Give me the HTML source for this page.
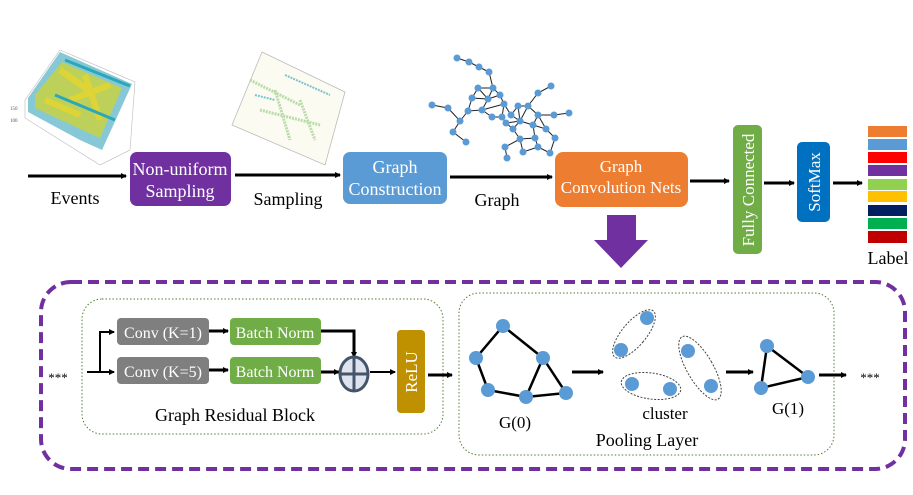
<!DOCTYPE html>
<html><head><meta charset="utf-8"><style>
html,body{margin:0;padding:0;background:#fff;}
svg{display:block;font-family:"Liberation Serif",serif;}
</style></head><body>
<svg width="913" height="495" viewBox="0 0 913 495" xmlns="http://www.w3.org/2000/svg">
<defs>
<marker id="ah" markerWidth="6" markerHeight="6" refX="5" refY="3" orient="auto" markerUnits="userSpaceOnUse"><path d="M0,0 L6,3 L0,6z" fill="#000"/></marker>
</defs>
<!-- events plot -->
<g>
<polygon points="25,100 60,50 135,82 130,150 100,165 25,118" fill="#fff" stroke="#bbb" stroke-width="0.6"/>
<polygon points="28,98 60,52 132,84 102,150 80,140 28,112" fill="#5fb6c8" opacity="0.75"/>
<polygon points="35,95 62,62 122,88 100,138 78,128 35,108" fill="#c7d244" opacity="0.85"/>
<path d="M60,70 L95,95 M70,100 L110,85 M85,75 L100,120 M45,100 L80,115" stroke="#e7d52c" stroke-width="6" opacity="0.8"/>
<path d="M55,95 L115,120 M65,60 L130,86" stroke="#2aa7b8" stroke-width="3"/>
<text x="10" y="110" font-size="5" fill="#555">150</text>
<text x="10" y="122" font-size="5" fill="#555">100</text>
</g>
<!-- sampling plot -->
<g>
<polygon points="262,52 345,92 325,165 232,125" fill="#fbfbf2" stroke="#bbb" stroke-width="0.8"/>
<path d="M250,80 L300,105 M260,110 L320,125 M275,90 L290,140 M300,100 L315,140" stroke="#9fcf8a" stroke-width="3" opacity="0.7" stroke-dasharray="2 1"/>
<path d="M255,95 L275,100 M285,75 L330,95" stroke="#7cc3cf" stroke-width="2" stroke-dasharray="2 1"/>
</g>
<!-- top graph -->
<g stroke="#222" stroke-width="1" fill="none">
<polyline points="457,58 469,62 479,67 489,72 493,88"/>
<path d="M493,88 L478,88 L472,98 L488,99 L478,88 M493,88 L488,99 M493,88 L500,95 L504,104 M472,98 L468,111 L482,110 L488,99 M468,111 L460,121 L448,108 L432,105 M460,121 L453,132 L466,142 M482,110 L492,117 L502,117 L504,104 L511,115 L518,106 L528,106 L538,93 L551,86 M482,110 L504,104 M500,95 L488,99 M518,106 L520,121 L511,115 M528,106 L538,115 L554,115 L569,113 M528,106 L520,121 L506,123 L502,117 M506,123 L513,129 L520,121 L533,125 L538,115 M513,129 L520,139 L535,138 L533,125 L546,129 L555,138 L550,153 L538,147 L535,138 M546,129 L538,115 M520,139 L523,152 L538,147 M505,147 L507,158 M505,147 L520,139 M523,152 L520,139"/>
</g>
<g fill="#5b9bd5">
<circle cx="457" cy="58" r="3.5"/><circle cx="469" cy="62" r="3.5"/><circle cx="479" cy="67" r="3.5"/><circle cx="489" cy="72" r="3.5"/><circle cx="493" cy="88" r="3.5"/><circle cx="478" cy="88" r="3.5"/><circle cx="472" cy="98" r="3.5"/><circle cx="488" cy="99" r="3.5"/><circle cx="500" cy="95" r="3.5"/><circle cx="468" cy="111" r="3.5"/><circle cx="482" cy="110" r="3.5"/><circle cx="432" cy="105" r="3.5"/><circle cx="448" cy="108" r="3.5"/><circle cx="460" cy="121" r="3.5"/><circle cx="453" cy="132" r="3.5"/><circle cx="466" cy="142" r="3.5"/><circle cx="504" cy="104" r="3.5"/><circle cx="492" cy="117" r="3.5"/><circle cx="502" cy="117" r="3.5"/><circle cx="511" cy="115" r="3.5"/><circle cx="518" cy="106" r="3.5"/><circle cx="528" cy="106" r="3.5"/><circle cx="538" cy="93" r="3.5"/><circle cx="551" cy="86" r="3.5"/><circle cx="538" cy="115" r="3.5"/><circle cx="554" cy="115" r="3.5"/><circle cx="569" cy="113" r="3.5"/><circle cx="520" cy="121" r="3.5"/><circle cx="506" cy="123" r="3.5"/><circle cx="513" cy="129" r="3.5"/><circle cx="533" cy="125" r="3.5"/><circle cx="546" cy="129" r="3.5"/><circle cx="520" cy="139" r="3.5"/><circle cx="535" cy="138" r="3.5"/><circle cx="555" cy="138" r="3.5"/><circle cx="505" cy="147" r="3.5"/><circle cx="507" cy="158" r="3.5"/><circle cx="523" cy="152" r="3.5"/><circle cx="538" cy="147" r="3.5"/><circle cx="550" cy="153" r="3.5"/>
</g>
<!-- top arrows -->
<g stroke="#000" stroke-width="3" marker-end="url(#ah)">
<line x1="28" y1="176" x2="126" y2="176"/>
<line x1="235" y1="175" x2="340" y2="175"/>
<line x1="450" y1="177" x2="552" y2="177"/>
<line x1="690" y1="181" x2="729" y2="181"/>
<line x1="764" y1="183" x2="794" y2="183"/>
<line x1="833" y1="183" x2="862" y2="183"/>
</g>
<!-- top boxes -->
<rect x="130" y="152" width="101" height="54" rx="7" fill="#7030a0"/>
<text x="180" y="175" font-size="18" fill="#fff" text-anchor="middle">Non-uniform</text>
<text x="180" y="197" font-size="18" fill="#fff" text-anchor="middle">Sampling</text>
<rect x="343" y="152" width="104" height="52" rx="7" fill="#5b9bd5"/>
<text x="395" y="173" font-size="18" fill="#fff" text-anchor="middle">Graph</text>
<text x="395" y="195" font-size="18" fill="#fff" text-anchor="middle">Construction</text>
<rect x="555" y="152" width="133" height="55" rx="8" fill="#ed7d31"/>
<text x="621" y="172" font-size="17" fill="#fff" text-anchor="middle">Graph</text>
<text x="621" y="193" font-size="17" fill="#fff" text-anchor="middle">Convolution Nets</text>
<rect x="733" y="125" width="29" height="129" rx="5" fill="#70ad47"/>
<text transform="translate(754,190) rotate(-90)" font-size="17" fill="#fff" text-anchor="middle">Fully Connected</text>
<rect x="797" y="142" width="33" height="80" rx="5" fill="#0070c0"/>
<text transform="translate(820,182) rotate(-90)" font-size="17" fill="#fff" text-anchor="middle">SoftMax</text>
<text x="75" y="204" font-size="18" text-anchor="middle">Events</text>
<text x="288" y="205" font-size="18" text-anchor="middle">Sampling</text>
<text x="497" y="206" font-size="18" text-anchor="middle">Graph</text>
<!-- label bars -->
<rect x="868" y="126" width="39" height="11" fill="#ed7d31"/>
<rect x="868" y="139" width="39" height="11" fill="#5b9bd5"/>
<rect x="868" y="152" width="39" height="11" fill="#ff0000"/>
<rect x="868" y="165" width="39" height="11" fill="#7030a0"/>
<rect x="868" y="179" width="39" height="11" fill="#92d050"/>
<rect x="868" y="191" width="39" height="11" fill="#ffc000"/>
<rect x="868" y="205" width="39" height="11" fill="#002060"/>
<rect x="868" y="218" width="39" height="11" fill="#00b050"/>
<rect x="868" y="231" width="39" height="12" fill="#c00000"/>
<text x="888" y="264" font-size="18" text-anchor="middle">Label</text>
<!-- big purple arrow -->
<polygon points="607,215 636,215 636,240 648,240 621,268 594,240 607,240" fill="#7030a0"/>
<!-- dashed container -->
<rect x="41" y="282" width="864" height="187" rx="30" fill="none" stroke="#7030a0" stroke-width="4" stroke-dasharray="11 6"/>
<rect x="82" y="299" width="361" height="135" rx="20" fill="none" stroke="#507e32" stroke-width="1" stroke-dasharray="1.5 2"/>
<rect x="459" y="293" width="375" height="162" rx="20" fill="none" stroke="#507e32" stroke-width="1" stroke-dasharray="1.5 2"/>
<text x="58" y="382" font-size="13" text-anchor="middle">***</text>
<!-- residual block arrows -->
<g stroke="#000" stroke-width="2" fill="none">
<line x1="87" y1="372" x2="114" y2="372" marker-end="url(#ah)"/>
<polyline points="100,372 100,332 114,332" marker-end="url(#ah)"/>
<line x1="209" y1="331" x2="228" y2="331" stroke-width="3" marker-end="url(#ah)"/>
<line x1="209" y1="370" x2="228" y2="370" stroke-width="3" marker-end="url(#ah)"/>
<polyline points="321,331 354,331 354,357" stroke-width="3" marker-end="url(#ah)"/>
<line x1="321" y1="372" x2="339" y2="372" stroke-width="3" marker-end="url(#ah)"/>
<line x1="370" y1="372" x2="395" y2="372" marker-end="url(#ah)"/>
<line x1="428" y1="375" x2="452" y2="375" stroke-width="3" marker-end="url(#ah)"/>
</g>
<rect x="117" y="318" width="92" height="27" rx="4" fill="#7f7f7f"/>
<text x="163" y="338" font-size="16" fill="#fff" text-anchor="middle">Conv (K=1)</text>
<rect x="117" y="357" width="92" height="27" rx="4" fill="#7f7f7f"/>
<text x="163" y="377" font-size="16" fill="#fff" text-anchor="middle">Conv (K=5)</text>
<rect x="230" y="318" width="91" height="27" rx="4" fill="#70ad47"/>
<text x="275" y="338" font-size="16" fill="#fff" text-anchor="middle">Batch Norm</text>
<rect x="230" y="357" width="91" height="27" rx="4" fill="#70ad47"/>
<text x="275" y="377" font-size="16" fill="#fff" text-anchor="middle">Batch Norm</text>
<ellipse cx="354" cy="374" rx="14" ry="17" fill="#dfe3ee" stroke="#44546a" stroke-width="3"/>
<path d="M340,374 H368 M354,357 V391" stroke="#44546a" stroke-width="3"/>
<rect x="397" y="330" width="28" height="83" rx="4" fill="#bf9000"/>
<text transform="translate(417,372) rotate(-90)" font-size="17" fill="#fff" text-anchor="middle">ReLU</text>
<text x="235" y="421" font-size="18" text-anchor="middle">Graph Residual Block</text>
<!-- pooling -->
<g stroke="#000" stroke-width="2.5" fill="none">
<path d="M503,326 L476,358 L488,390 L526,397 L566,393 L543,358 L503,326 M526,397 L543,358"/>
<path d="M767,346 L761,388 L808,377 Z"/>
</g>
<g stroke="#000" stroke-width="3" marker-end="url(#ah)">
<line x1="572" y1="372" x2="603" y2="372"/>
<line x1="726" y1="372" x2="753" y2="372"/>
<line x1="819" y1="375" x2="846" y2="375"/>
</g>
<g fill="none" stroke="#444" stroke-width="1" stroke-dasharray="2 1.5">
<ellipse cx="634" cy="334" rx="12" ry="30" transform="rotate(40 634 334)"/>
<ellipse cx="700" cy="368" rx="13" ry="36" transform="rotate(-30 700 368)"/>
<ellipse cx="651" cy="386" rx="30" ry="13" transform="rotate(8 651 386)"/>
</g>
<g fill="#5b9bd5">
<circle cx="503" cy="326" r="7"/><circle cx="476" cy="358" r="7"/><circle cx="488" cy="390" r="7"/><circle cx="526" cy="397" r="7"/><circle cx="543" cy="358" r="7"/><circle cx="566" cy="393" r="7"/>
<circle cx="647" cy="318" r="7"/><circle cx="621" cy="350" r="7"/><circle cx="688" cy="351" r="7"/><circle cx="711" cy="386" r="7"/><circle cx="632" cy="384" r="7"/><circle cx="670" cy="389" r="7"/>
<circle cx="767" cy="346" r="7"/><circle cx="761" cy="388" r="7"/><circle cx="808" cy="377" r="7"/>
</g>
<text x="515" y="428" font-size="17" text-anchor="middle">G(0)</text>
<text x="665" y="419" font-size="17" text-anchor="middle">cluster</text>
<text x="788" y="414" font-size="17" text-anchor="middle">G(1)</text>
<text x="647" y="446" font-size="18" text-anchor="middle">Pooling Layer</text>
<text x="870" y="382" font-size="13" text-anchor="middle">***</text>
</svg>
</body></html>
